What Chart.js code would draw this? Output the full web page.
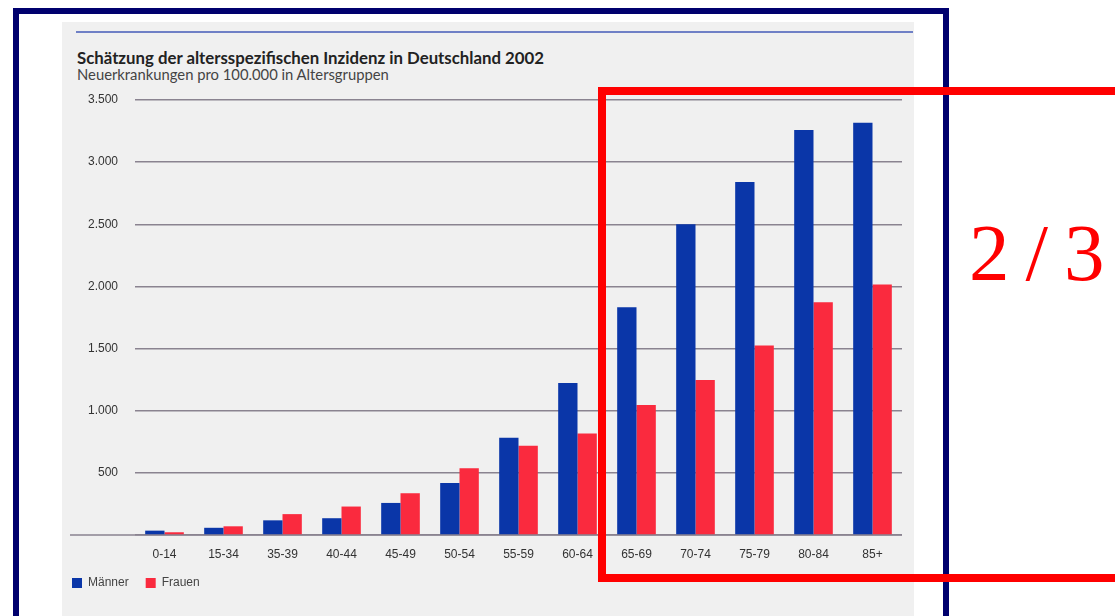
<!DOCTYPE html>
<html>
<head>
<meta charset="utf-8">
<script src="https://cdn.jsdelivr.net/npm/chart.js@4/dist/chart.umd.min.js"></script>
<style>
  html, body { margin: 0; padding: 0; background: #fff; width: 1115px; height: 616px; overflow: hidden; position: relative; }
  #frame { position: absolute; left: 13px; top: 8px; width: 936px; height: 700px; border: 6px solid #00006e; box-sizing: border-box; }
  #panel { position: absolute; left: 62px; top: 22px; width: 852px; height: 600px; background: #f0f0f0; }
  #rule { position: absolute; left: 76px; top: 31px; width: 837px; height: 2px; background: #6f80c6; }
  #title { position: absolute; left: 77px; top: 47px; line-height: 20px; font: bold 16.8px Lato, sans-serif; color: #222; white-space: nowrap; }
  #subtitle { position: absolute; left: 77px; top: 65px; line-height: 17px; font: 14.8px Lato, sans-serif; color: #444; white-space: nowrap; }
  #wrap { position: absolute; left: 55px; top: 22px; width: 859px; height: 594px; }
  #mark { position: absolute; left: 598px; top: 87px; width: 600px; height: 495px; border: 8px solid #ff0000; box-sizing: border-box; }
  #frac { position: absolute; left: 969px; top: 213px; font: 81px 'Liberation Serif', serif; line-height: 1; color: #ff0000; letter-spacing: 16px; white-space: nowrap; }
</style>
</head>
<body>
<div id="frame"></div>
<div id="panel"></div>
<div id="rule"></div>
<div id="title">Schätzung der altersspezifischen Inzidenz in Deutschland 2002</div>
<div id="subtitle">Neuerkrankungen pro 100.000 in Altersgruppen</div>
<div id="wrap"><canvas id="barChart" width="859" height="594"></canvas></div>
<div id="mark"></div>
<div id="frac">2/3</div>

<script>
// Altersgruppen und Neuerkrankungen pro 100.000
const categories = ['0-14', '15-34', '35-39', '40-44', '45-49', '50-54', '55-59',
                    '60-64', '65-69', '70-74', '75-79', '80-84', '85+'];
const maenner = [35, 58, 118, 135, 258, 419, 782, 1223, 1833, 2500, 2841, 3258, 3317];
const frauen  = [22, 70, 168, 229, 336, 538, 718, 817, 1046, 1247, 1524, 1873, 2016];
const yMax = 3500;
const yStep = 500;

Chart.defaults.font.family = "'Liberation Sans', Arial, sans-serif";

// Nulllinie, reicht links bis an den Rand der Grafik
const baseline = {
    id: 'baseline',
    beforeDatasetsDraw(chart) {
        const { ctx, chartArea, scales } = chart;
        const y = scales.y.getPixelForValue(0);
        ctx.save();
        ctx.strokeStyle = '#8a8390';
        ctx.lineWidth = 1.5;
        ctx.beginPath();
        ctx.moveTo(15, y);
        ctx.lineTo(chartArea.right, y);
        ctx.stroke();
        ctx.restore();
    }
};

const ctx = document.getElementById('barChart').getContext('2d');
new Chart(ctx, {
    type: 'bar',
    data: {
        labels: categories,
        datasets: [
            { label: 'Männer', data: maenner, backgroundColor: '#0a36a8' },
            { label: 'Frauen', data: frauen, backgroundColor: '#fa2a3e' }
        ]
    },
    options: {
        responsive: false,
        animation: false,
        categoryPercentage: 0.655,
        barPercentage: 1.0,
        layout: { padding: { left: 0, right: 12, top: 78, bottom: 17 } },
        scales: {
            x: {
                afterFit: s => { s.height = 25; },
                grid: { display: false },
                border: { display: false },
                ticks: { padding: 4, color: '#333', font: { size: 12 } }
            },
            y: {
                min: 0,
                max: yMax,
                afterFit: s => { s.width = 80; },
                grid: { color: '#8a8390', lineWidth: 1.5, drawTicks: false },
                border: { display: false },
                ticks: {
                    stepSize: yStep,
                    padding: 17,
                    color: '#333',
                    font: { size: 12 },
                    callback: v => v === 0 ? '' : v.toLocaleString('de-DE')
                }
            }
        },
        plugins: {
            legend: {
                position: 'bottom',
                align: 'start',
                labels: { boxWidth: 10, boxHeight: 10, padding: 17, color: '#444', font: { size: 12 } }
            },
            tooltip: { enabled: false }
        }
    },
    plugins: [baseline]
});
</script>
</body>
</html>
